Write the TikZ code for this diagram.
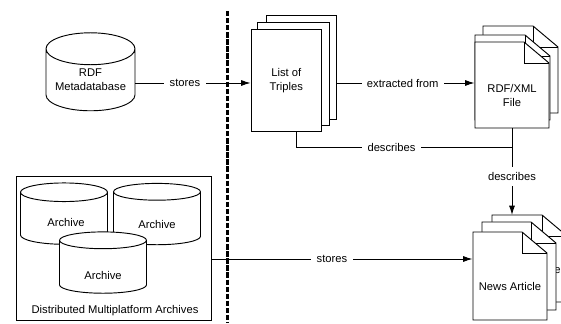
\documentclass[tikz,border=0pt]{standalone}
\usepackage{fontspec}
\setmainfont{Liberation Sans}
\usetikzlibrary{shapes,arrows,positioning,fit,arrows.meta}
% name, left, top, right, bottom, text
\newcommand{\foldsheet}[6]{
    \draw [fill=white] (#2,#5) -- (#2,#3) -- ({#4-25},#3) -- (#4,{#3+21}) -- (#4,#5) -- cycle;
    \draw ({#4-25},#3) -- ({#4-25},{#3+21}) -- (#4,{#3+21});
    \node (#1) [sheet, draw=none, fill=none, minimum width={(#4-#2)*0.75pt}, minimum height={(#5-#3-21)*0.75pt}] at ({(#2+#4)/2},{(#3+21+#5)/2}) {#6};
    \coordinate (#1top) at ({(#2+#4)/2},#3);
}
\begin{document}
\begin{tikzpicture}[x=0.75pt, y=-0.75pt, line width=0.7pt, font=\fontsize{8.4}{10.5}\selectfont]
    \tikzstyle{store} = [cylinder, shape border rotate=90, draw, aspect=0.45, align=center, minimum width=66.75pt, minimum height=58.5pt, inner sep=0pt, fill=white]
    \tikzstyle{archive} = [store, minimum width=65.25pt, minimum height=46pt]
    \tikzstyle{sheet} = [rectangle, draw, fill=white, align=center, inner sep=0pt]
    \tikzstyle{link} = [-{Latex[length=7pt,width=4.5pt]}]
    \tikzstyle{tag} = [fill=white, inner sep=4pt]

    \useasboundingbox (0,0) rectangle (561,324);

    % left side
    \node (metadb) [store] at (90.5,80) {RDF\\Metadatabase};
    \node (group) [rectangle, draw, minimum width=146.6pt, minimum height=108pt, inner sep=0pt] at (114,248) {};
    \node (archiveA) [archive, text height=12pt] at (64,218.5) {\hspace{3pt}Archive};
    \node (archiveB) [archive, text height=15pt] at (157,218.5) {Archive};
    \node (archiveC) [archive, text height=19.5pt] at (103,267) {Archive};
    \node (grouptitle) at (115,310.7) {Distributed Multiplatform Archives};

    % triples
    \node (listC) [sheet, minimum width=52.5pt, minimum height=78pt] at (301,67) {};
    \node (listB) [sheet, minimum width=54pt, minimum height=77pt] at (293,74.2) {};
    \node (list) [sheet, minimum width=52.9pt, minimum height=77.2pt] at (286.3,80.5) {List of\\Triples};

    % rdf file
    \foldsheet{fileC}{483}{26}{558}{113}{}
    \foldsheet{fileB}{475}{35}{550}{120}{}
    \foldsheet{file}{475}{42}{549}{128}{RDF/XML\\File}

    % news article
    \foldsheet{newsC}{492}{215}{567}{302}{News Article}
    \foldsheet{newsB}{482}{222}{556}{310}{}
    \foldsheet{news}{473}{232}{547}{320}{News Article}

    \coordinate (feed) at (0,83);
    \coordinate (newsfeed) at (0,259);
    \coordinate (joinB) at (file.south |- 0,147.7);

    \draw [link] (metadb.east |- feed) -- node [tag, pos=0.43] {stores} (list.west |- feed);
    \draw [link] (listC.east |- feed) -- node [tag, pos=0.48] {extracted from} (file.west |- feed);
    \draw ([xshift=7.9pt]list.south) |- node [tag, pos=0.72] {describes} (joinB);
    \draw [link] (file.south) -- node [tag, pos=0.55] {describes} (newsCtop -| file.south);
    \draw [link] (group.east |- newsfeed) -- node [tag, pos=0.46] {stores} (news.west |- newsfeed);

    \draw [line width=2.2pt, dash pattern=on 4pt off 1.3pt] (227.7,11) coordinate (sepTop) -- (227.7,322) coordinate (sepBottom);
\end{tikzpicture}
\end{document}
